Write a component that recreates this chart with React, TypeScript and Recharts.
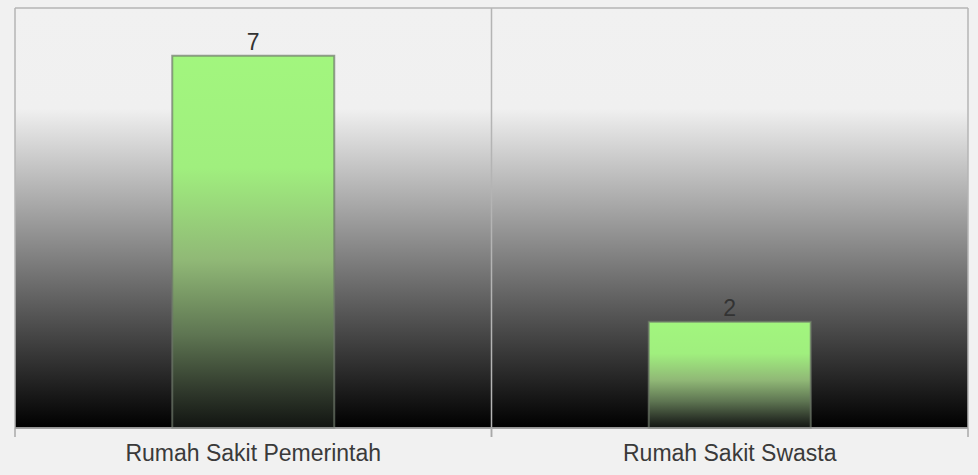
import { BarChart, Bar, XAxis, YAxis, CartesianGrid, LabelList } from 'recharts';

const categories = ['Rumah Sakit Pemerintah', 'Rumah Sakit Swasta'];
const jumlah = [7, 2];

const W = 978;
const H = 475;
const margin = { top: 8, right: 10, left: 15, bottom: 17 };
const plotW = W - margin.left - margin.right;
const band = plotW / categories.length;

const data = categories.map((name, i) => ({ name, jumlah: jumlah[i] }));

// label kategori + garis tick di batas kategori
function CategoryTick(props: any) {
  const { x, y, payload } = props;
  return (
    <g>
      <line x1={x - band / 2} y1={y - 8} x2={x - band / 2} y2={y + 1} stroke="#a8a8a8" strokeWidth={1.5} />
      <line x1={x + band / 2} y1={y - 8} x2={x + band / 2} y2={y + 1} stroke="#a8a8a8" strokeWidth={1.5} />
      <text
        x={x}
        y={y + 25}
        textAnchor="middle"
        fill="#3a3a3a"
        fontSize={23}
        fontFamily="Liberation Sans, Arial, sans-serif"
      >
        {payload.value}
      </text>
    </g>
  );
}

export default function App() {
  return (
    <div style={{ position: 'fixed', left: 0, top: 0, width: W, height: H, background: '#f1f1f1' }}>
      <BarChart width={W} height={H} data={data} margin={margin} barCategoryGap="33%">
        <defs>
          <linearGradient id="bgGrad" x1="0" y1="0" x2="0" y2="1">
            <stop offset="0%" stopColor="#f1f1f1" />
            <stop offset="24%" stopColor="#f0f0f0" />
            <stop offset="100%" stopColor="#000000" />
          </linearGradient>
          <linearGradient id="barGrad" x1="0" y1="0" x2="0" y2="1">
            <stop offset="0%" stopColor="#a2f67e" />
            <stop offset="30%" stopColor="#a0ef7e" />
            <stop offset="55%" stopColor="#90b876" />
            <stop offset="75%" stopColor="#5e7552" />
            <stop offset="90%" stopColor="#30392c" />
            <stop offset="100%" stopColor="#111411" />
          </linearGradient>
        </defs>
        <CartesianGrid
          fill="url(#bgGrad)"
          fillOpacity={1}
          stroke="#b4b4b4"
          strokeWidth={1.5}
          verticalCoordinatesGenerator={({ offset }: any) => [
            offset.left,
            offset.left + offset.width / 2,
            offset.left + offset.width,
          ]}
          horizontalCoordinatesGenerator={({ offset }: any) => [offset.top, offset.top + offset.height]}
        />
        <XAxis
          dataKey="name"
          height={30}
          axisLine={{ stroke: '#9a9a9a', strokeWidth: 1.5 }}
          tickLine={false}
          tick={<CategoryTick />}
          interval={0}
        />
        <YAxis hide domain={[0, 7.9]} />
        <Bar
          dataKey="jumlah"
          fill="url(#barGrad)"
          stroke="rgba(110,120,105,0.7)"
          strokeWidth={2}
          isAnimationActive={false}
        >
          <LabelList
            dataKey="jumlah"
            position="top"
            offset={6}
            fill="#333"
            fontSize={23}
            fontFamily="Liberation Sans, Arial, sans-serif"
          />
        </Bar>
      </BarChart>
    </div>
  );
}
